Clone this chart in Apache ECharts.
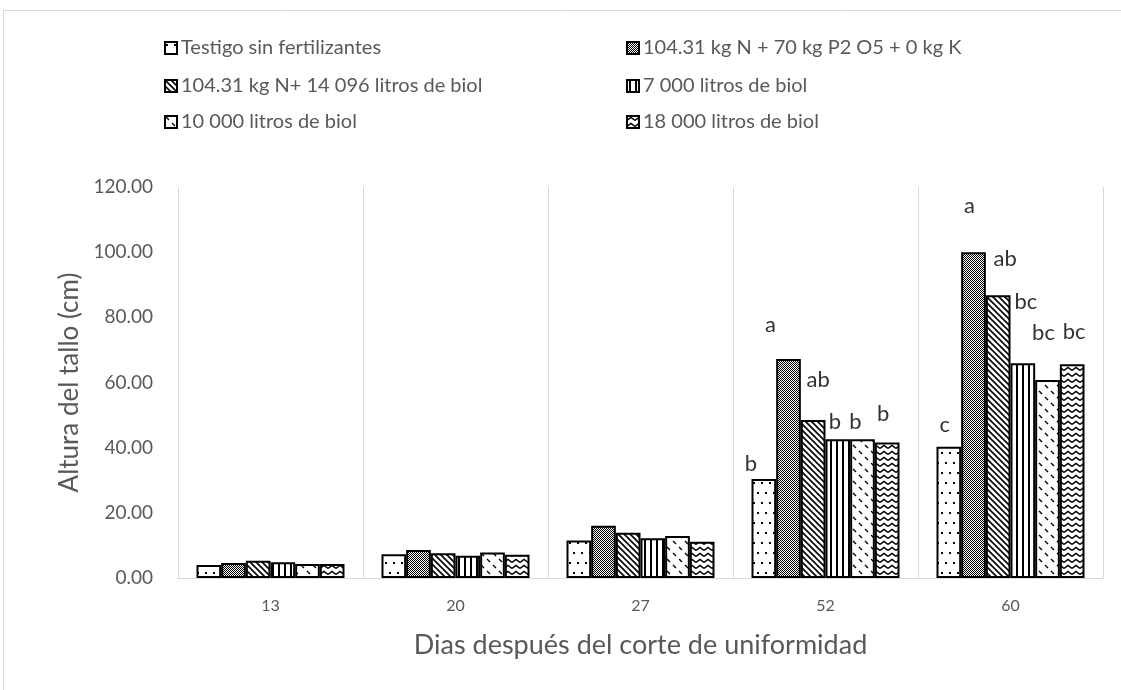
<!DOCTYPE html>
<html>
<head>
<meta charset="utf-8">
<script src="https://cdn.jsdelivr.net/npm/echarts@6/dist/echarts.min.js"></script>
<style>
  html, body { margin: 0; padding: 0; background: #fff; }
  #chart { width: 1121px; height: 690px; }
</style>
</head>
<body>
<div id="chart"></div>
<script>
// dias despues del corte
var categories = ['13', '20', '27', '52', '60'];
var seriesNames = [
  'Testigo sin fertilizantes',
  '104.31 kg N + 70 kg P2 O5 + 0 kg K',
  '104.31 kg N+ 14 096 litros de biol',
  '7 000 litros de biol',
  '10 000 litros de biol',
  '18 000 litros de biol'
];
// altura del tallo (cm), una lista por tratamiento
var testigo   = [4.0, 7.3, 11.5, 30.4, 40.3];
var npk       = [4.6, 8.6, 16.0, 67.2, 100.0];
var nBiol     = [5.3, 7.6, 13.9, 48.5, 86.8];
var biol7000  = [4.8, 6.8, 12.2, 42.6, 65.9];
var biol10000 = [4.3, 7.8, 12.9, 42.6, 60.8];
var biol18000 = [4.3, 7.1, 11.1, 41.6, 65.6];
// letras de significancia
var letrasTestigo   = ['', '', '', 'b', 'c'];
var letrasNpk       = ['', '', '', 'a', 'a'];
var letrasNBiol     = ['', '', '', 'ab', 'ab'];
var letras7000      = ['', '', '', 'b', 'bc'];
var letras10000     = ['', '', '', 'b', 'bc'];
var letras18000     = ['', '', '', 'b', 'bc'];
var yTicks = [0, 20, 40, 60, 80, 100, 120];

var values = [testigo, npk, nBiol, biol7000, biol10000, biol18000];
var letters = [letrasTestigo, letrasNpk, letrasNBiol, letras7000, letras10000, letras18000];

// desplazamiento de las letras (como quedaron puestas a mano en excel)
var labelOffsets = [
  [null, null, null, [-13, 1], [-4, -6]],
  [null, null, null, [-18, -18], [-4, -30]],
  [null, null, null, [5, -24], [7, -20]],
  [null, null, null, [-3, -1], [3, -45]],
  [null, null, null, [-7, -1], [-4, -31]],
  [null, null, null, [-4, -13], [2, -16]]
];

function makePattern(w, h, draw) {
  var c = document.createElement('canvas');
  c.width = w; c.height = h;
  var ctx = c.getContext('2d');
  ctx.fillStyle = '#fff';
  ctx.fillRect(0, 0, w, h);
  ctx.fillStyle = '#000';
  ctx.strokeStyle = '#000';
  draw(ctx);
  return { image: c, repeat: 'repeat' };
}

var patterns = [
  // puntos dispersos
  makePattern(8, 20, function (ctx) {
    ctx.fillRect(1, 2, 2, 2);
    ctx.fillRect(5, 12, 2, 2);
  }),
  // cuadriculado fino 50%
  makePattern(2, 2, function (ctx) {
    ctx.fillRect(0, 0, 1, 1);
    ctx.fillRect(1, 1, 1, 1);
  }),
  // diagonal ancha hacia abajo
  makePattern(6, 6, function (ctx) {
    ctx.lineWidth = 1.6;
    ctx.beginPath();
    ctx.moveTo(-1, -1); ctx.lineTo(7, 7);
    ctx.moveTo(-4, 2); ctx.lineTo(4, 10);
    ctx.moveTo(2, -4); ctx.lineTo(10, 4);
    ctx.stroke();
  }),
  // verticales
  makePattern(6, 4, function (ctx) {
    ctx.fillRect(2, 0, 2, 4);
  }),
  // diagonal discontinua
  makePattern(12, 12, function (ctx) {
    ctx.lineWidth = 1.4;
    ctx.beginPath();
    ctx.moveTo(1, 1); ctx.lineTo(4, 4);
    ctx.moveTo(7, 7); ctx.lineTo(10, 10);
    ctx.stroke();
  }),
  // zigzag
  makePattern(8, 6, function (ctx) {
    ctx.lineWidth = 1.5;
    ctx.beginPath();
    ctx.moveTo(0, 4.5); ctx.lineTo(4, 1.5); ctx.lineTo(8, 4.5);
    ctx.stroke();
  })
];

var FONT = 'Lato, "Liberation Sans", sans-serif';
var TXT = '#595959';

var seriesData = [];
values.forEach(function (vals, i) {
  seriesData.push({
    name: seriesNames[i],
    type: 'bar',
    barGap: '0%',
    barCategoryGap: '20%',
    itemStyle: { color: patterns[i], borderColor: '#000', borderWidth: 2 },
    emphasis: { disabled: true },
    data: vals.map(function (v, j) {
      var item = { value: v };
      if (letters[i][j]) {
        item.label = {
          show: true,
          position: 'top',
          formatter: letters[i][j],
          offset: labelOffsets[i][j],
          fontFamily: FONT,
          fontSize: 22,
          color: '#333'
        };
      }
      return item;
    })
  });
});

// leyenda en dos columnas, tres filas
var legendLeft = [164, 626];
var legendTop = [38, 76, 112];
var legends = seriesNames.map(function (name, i) {
  return {
    data: [name],
    left: legendLeft[i % 2],
    top: legendTop[Math.floor(i / 2)],
    padding: 0,
    icon: 'rect',
    itemWidth: 12,
    itemHeight: 12,
    itemGap: 0,
    selectedMode: false,
    itemStyle: { borderColor: '#000', borderWidth: 2 },
    textStyle: { fontFamily: FONT, fontSize: 20, color: TXT, padding: [0, 0, 0, -1] }
  };
});

var myChart = echarts.init(document.getElementById('chart'), null, { renderer: 'canvas' });
myChart.setOption({
  animation: false,
  backgroundColor: '#fff',
  graphic: [{
    type: 'rect',
    shape: { x: 3.5, y: 10.5, width: 1200, height: 800 },
    style: { fill: null, stroke: '#d9d9d9', lineWidth: 1 },
    silent: true
  }],
  legend: legends,
  grid: { left: 178, right: 18, top: 187, bottom: 112 },
  xAxis: {
    type: 'category',
    data: categories,
    axisLine: { lineStyle: { color: '#d9d9d9', width: 1 } },
    axisTick: { show: false },
    splitLine: { show: true, lineStyle: { color: '#d9d9d9', width: 1 } },
    axisLabel: { fontFamily: FONT, fontSize: 16, color: TXT, margin: 20 },
    name: 'Dias después del corte de uniformidad',
    nameLocation: 'middle',
    nameGap: 54,
    nameTextStyle: { fontFamily: FONT, fontSize: 27, color: TXT }
  },
  yAxis: {
    type: 'value',
    min: yTicks[0],
    max: yTicks[yTicks.length - 1],
    interval: yTicks[1] - yTicks[0],
    axisLine: { show: true, lineStyle: { color: '#d9d9d9', width: 1 } },
    axisTick: { show: false },
    splitLine: { show: false },
    axisLabel: {
      fontFamily: FONT, fontSize: 19, color: TXT, margin: 25,
      formatter: function (v) { return v.toFixed(2); }
    },
    name: 'Altura del tallo (cm)',
    nameLocation: 'middle',
    nameGap: 91,
    nameTextStyle: { fontFamily: FONT, fontSize: 26, color: TXT }
  },
  series: seriesData
});
</script>
</body>
</html>
